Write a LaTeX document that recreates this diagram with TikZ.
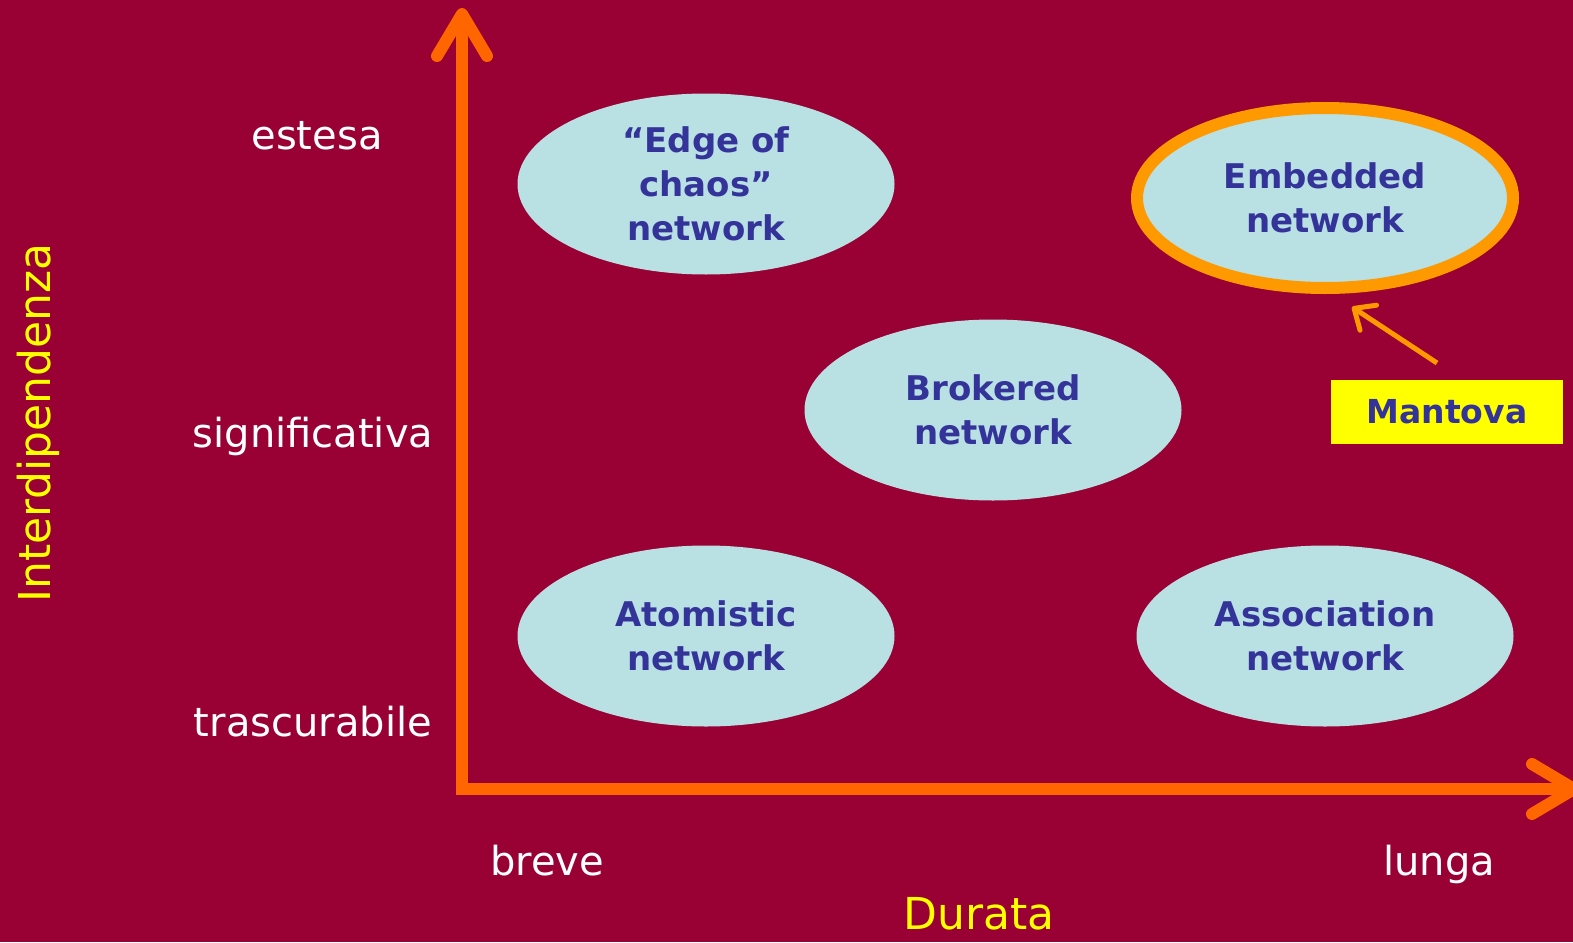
\documentclass[tikz,border=0pt]{standalone}
\usepackage{fontspec}
\setmainfont{DejaVu Sans}
\usetikzlibrary{arrows.meta,shapes.geometric}
\definecolor{bgred}{HTML}{990033}
\definecolor{axisorange}{HTML}{FF6600}
\definecolor{ringorange}{HTML}{FF9900}
\definecolor{cellfill}{HTML}{B9E0E3}
\definecolor{textblue}{HTML}{333399}
\definecolor{labyellow}{HTML}{FFFF00}
\tikzset{
  netnode/.style={ellipse, fill=cellfill, minimum width=377pt, minimum height=181pt, inner sep=0pt,
    align=center, text=textblue, font=\fontsize{34}{44}\selectfont\bfseries},
  whitelabel/.style={text=white, font=\fontsize{40}{48}\selectfont, inner sep=0pt},
  yellowlabel/.style={text=labyellow, font=\fontsize{44}{52}\selectfont, inner sep=0pt},
  axisline/.style={draw=axisorange, line width=12pt, line join=miter,
    arrows={Straight Barb[length=42pt, width=50pt, round]-Straight Barb[length=42pt, width=50pt, round]}},
  pointer/.style={draw=ringorange, line width=5pt,
    -{Straight Barb[length=17pt, width=30pt, round]}},
}
\begin{document}
\begin{tikzpicture}[x=1pt,y=-1pt]
\useasboundingbox (0,0) rectangle (1573,942);
\fill[bgred] (0,0) rectangle (1573,942);

% axes
\coordinate (ytip) at (462,8);
\coordinate (origin) at (462,789);
\coordinate (xtip) at (1580,789);
\draw[axisline] (ytip) -- (origin) -- (xtip);

% network ellipses
\node[netnode] (edge) at (706,184) {\char"201C Edge of\\chaos\char"201D\\network};
\node[netnode, draw=ringorange, line width=12pt, minimum width=376pt, minimum height=180pt] (embedded) at (1325,198) {Embedded\\network};
\node[netnode] (brokered) at (993,410) {Brokered\\network};
\node[netnode] (atomistic) at (706,636) {Atomistic\\network};
\node[netnode] (association) at (1325,636) {Association\\network};

% Mantova label
\node[fill=labyellow, minimum width=232pt, minimum height=64pt, inner sep=0pt,
  text=textblue, font=\fontsize{33}{40}\selectfont\bfseries] (mantova) at (1447,412) {Mantova};
\coordinate (mstart) at (1437,363);
\coordinate (mend) at (1352,307);
\draw[pointer] (mstart) -- (mend);

% axis labels
\node[whitelabel] (estesa) at (317,136) {estesa};
\node[whitelabel] (signif) at (313,436) {significativa};
\node[whitelabel] (trasc) at (313,722) {trascurabile};
\node[whitelabel] (breve) at (547,861) {breve};
\node[whitelabel] (lunga) at (1439,864) {lunga};
\node[yellowlabel] (durata) at (979,914) {Durata};
\node[yellowlabel, rotate=90] (interd) at (38,423) {Interdipendenza};
\end{tikzpicture}
\end{document}
